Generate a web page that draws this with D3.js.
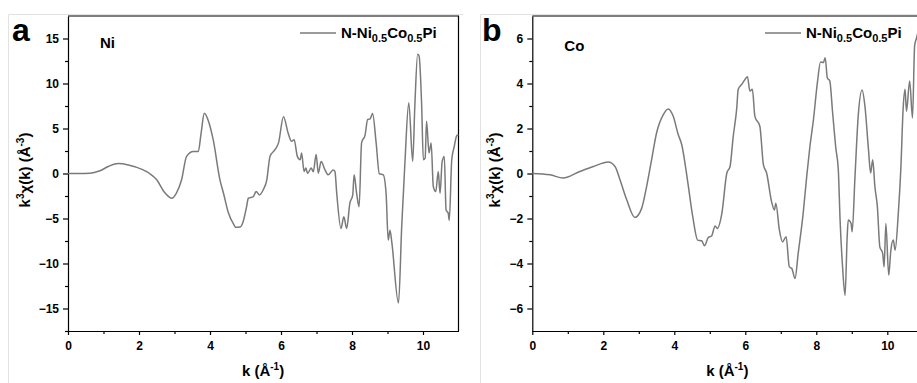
<!DOCTYPE html>
<html>
<head>
<meta charset="utf-8">
<script src="https://cdn.jsdelivr.net/npm/d3@7"></script>
<style>
  html, body { margin: 0; padding: 0; background: #fff; overflow: hidden; }
  svg { display: block; font-family: Arial, 'Liberation Sans', sans-serif; }
  .axis text { font-size: 12px; font-weight: bold; fill: #000; }
  .axis path, .axis line { stroke: #000; stroke-width: 1.2; }
</style>
</head>
<body>
<svg width="917" height="383"></svg>
<script>
// Ni K-edge k3-weighted EXAFS
const kNi = [0, 0.3, 0.62, 0.9, 1.15, 1.42, 1.7, 2.12, 2.3, 2.5, 2.7, 2.92, 3.05, 3.2, 3.34, 3.53, 3.67, 3.75, 3.84, 3.95,
  4.09, 4.28, 4.38, 4.52, 4.66, 4.73, 4.85, 4.93, 5.03, 5.08, 5.22, 5.3, 5.39, 5.5, 5.6, 5.69, 5.83, 5.93, 6.07, 6.2,
  6.3, 6.37, 6.46, 6.54, 6.58, 6.65, 6.7, 6.75, 6.85, 6.91, 6.99, 7.05, 7.13, 7.24, 7.33, 7.47, 7.52, 7.57, 7.69, 7.77,
  7.85, 7.94, 8.02, 8.06, 8.13, 8.2, 8.27, 8.37, 8.44, 8.51, 8.58, 8.68, 8.77, 8.88, 8.96, 9.02, 9.07, 9.12, 9.31, 9.4,
  9.49, 9.6, 9.71, 9.77, 9.85, 9.89, 9.96, 10.01, 10.06, 10.1, 10.17, 10.23, 10.29, 10.36, 10.43, 10.48, 10.54, 10.6, 10.65, 10.71,
  10.74, 10.81, 10.88, 10.95, 11.0];
const chiNi = [0, 0, 0.02, 0.3, 0.8, 1.1, 0.95, 0.4, 0.0, -0.7, -2.0, -2.75, -2.2, -0.7, 1.9, 2.45, 2.45, 4.5, 6.7, 5.9,
  3.76, -0.7, -2.2, -4.4, -5.6, -5.98, -5.95, -5.4, -3.7, -2.75, -2.57, -2.0, -2.38, -1.8, -0.7, 1.9, 2.64, 3.4, 6.3, 4.5,
  3.57, 3.76, 1.9, 1.53, 2.28, 0.22, 0.6, 0.0, 0.6, 0.2, 2.1, 0.04, 1.34, 0.4, -0.15, 0.4, 0.2, -2.2, -6.1, -4.8,
  -6.1, -3.3, -2.4, -0.15, -2.2, -3.7, 3.4, 4.3, 6.0, 6.07, 6.66, 3.4, -0.03, -0.15, -2.2, -7.4, -6.3, -7.6, -14.4, -5.9,
  1.16, 7.86, 1.34, 7.5, 13.25, 13.06, 7.86, 1.53, 1.7, 5.8, 2.28, 3.4, -1.45, -2.0, 0.22, -2.2, 1.34, 1.9, -4.05, -4.4,
  -5.2, 1.53, 3.0, 4.2, 4.3];

// Co K-edge k3-weighted EXAFS
const kCo = [0, 0.5, 0.87, 1.34, 1.72, 2.14, 2.33, 2.47, 2.66, 2.89, 3.08, 3.22, 3.36, 3.5, 3.69, 3.83, 3.97, 4.11, 4.21, 4.37,
  4.52, 4.66, 4.77, 4.85, 4.96, 5.05, 5.15, 5.21, 5.34, 5.48, 5.57, 5.66, 5.76, 5.8, 5.9, 5.99, 6.06, 6.13, 6.2, 6.27,
  6.41, 6.51, 6.6, 6.74, 6.82, 6.86, 6.96, 7.05, 7.15, 7.24, 7.31, 7.4, 7.49, 7.63, 7.73, 7.82, 7.92, 8.03, 8.12, 8.2,
  8.25, 8.31, 8.38, 8.46, 8.55, 8.62, 8.67, 8.74, 8.81, 8.87, 8.9, 8.98, 9.01, 9.09, 9.18, 9.29, 9.37, 9.47, 9.53, 9.59,
  9.65, 9.72, 9.79, 9.87, 9.91, 9.96, 10.04, 10.1, 10.17, 10.22, 10.31, 10.38, 10.45, 10.5, 10.54, 10.63, 10.71, 10.77, 10.82, 10.9];
const chiCo = [0, -0.06, -0.2, 0.09, 0.31, 0.51, 0.31, -0.28, -1.17, -1.95, -1.55, -0.58, 0.61, 1.8, 2.62, 2.87, 2.54, 1.73, 1.28, -0.28,
  -1.92, -2.96, -2.99, -3.21, -2.84, -2.78, -2.33, -2.44, -1.77, 0.02, 0.31, 1.65, 2.92, 3.74, 3.96, 4.18, 4.3, 3.66, 3.74, 2.54,
  2.1, 0.39, 0.02, -1.25, -1.62, -1.32, -2.51, -3.04, -2.81, -4.15, -4.22, -4.67, -3.55, -1.77, -0.13, 1.2, 2.4, 4.03, 4.96, 4.93,
  5.15, 4.26, 4.11, 2.7, 1.13, 0.17, -2.07, -4.15, -5.42, -2.81, -2.07, -2.22, -2.59, -0.13, 2.54, 3.71, 2.99, 1.06, 0.02, 0.61,
  -0.58, -1.47, -3.26, -3.55, -4.15, -2.22, -4.52, -3.41, -2.96, -3.41, -1.77, 0.17, 2.99, 3.74, 2.77, 4.11, 2.47, 5.67, 6.0, 6.5];

const xTicks = [0, 2, 4, 6, 8, 10];
const xMinor = [1, 3, 5, 7, 9];
const yTicksNi = [-15, -10, -5, 0, 5, 10, 15];
const yMinorNi = [-17.5, -12.5, -7.5, -2.5, 2.5, 7.5, 12.5];
const yTicksCo = [-6, -4, -2, 0, 2, 4, 6];
const yMinorCo = [-5, -3, -1, 1, 3, 5];

const width = 917;
const height = 383;
const svg = d3.select('svg');
const lineColor = '#7a7a7a';

const panels = [
  { letter: 'a', element: 'Ni', k: kNi, chi: chiNi, yDomain: [-17.5, 17.5], yTicks: yTicksNi, yMinor: yMinorNi,
    left: 68, frameX: 8.5, letterX: 12, legendX: 300, ylabelX: 30, elemY: 32 },
  { letter: 'b', element: 'Co', k: kCo, chi: chiCo, yDomain: [-7, 7], yTicks: yTicksCo, yMinor: yMinorCo,
    left: 532.3, frameX: 480.5, letterX: 482, legendX: 765, ylabelX: 500, elemY: 35 }
];

const marginTop = 16;
const innerHeight = 315;
const innerWidth = 390.5;

// the right panel is cut by the page edge, as in the source figure
svg.append('clipPath').attr('id', 'page')
  .append('rect').attr('width', width).attr('height', height);
const root = svg.append('g').attr('clip-path', 'url(#page)');

panels.forEach(p => {
  // faint border of the original figure tile
  root.append('path')
    .attr('d', `M${p.frameX},${height} V14.5 H${Math.min(p.frameX + 455, width)}`)
    .attr('fill', 'none')
    .attr('stroke', '#e2e2e2')
    .attr('stroke-width', 1);

  const xScale = d3.scaleLinear().domain([0, 11]).range([0, innerWidth]);
  const yScale = d3.scaleLinear().domain(p.yDomain).range([innerHeight, 0]);

  const g = root.append('g')
    .attr('transform', `translate(${p.left}, ${marginTop})`);

  // minor ticks (no labels)
  const xMinorG = g.append('g').attr('class', 'axis')
    .attr('transform', `translate(0, ${innerHeight})`)
    .call(d3.axisBottom(xScale).tickValues(xMinor).tickSize(3));
  xMinorG.selectAll('.domain, text').remove();
  const yMinorG = g.append('g').attr('class', 'axis')
    .call(d3.axisLeft(yScale).tickValues(p.yMinor).tickSize(3));
  yMinorG.selectAll('.domain, text').remove();

  g.append('g').attr('class', 'axis')
    .attr('transform', `translate(0, ${innerHeight})`)
    .call(d3.axisBottom(xScale).tickValues(xTicks).tickSize(4).tickPadding(6).tickSizeOuter(0));
  g.append('g').attr('class', 'axis')
    .call(d3.axisLeft(yScale).tickValues(p.yTicks).tickSize(5).tickPadding(4).tickSizeOuter(0));

  // top and right frame
  g.append('path')
    .attr('d', `M0,0 H${innerWidth} V${innerHeight}`)
    .attr('fill', 'none')
    .attr('stroke', '#000')
    .attr('stroke-width', 1.2);

  const line = d3.line()
    .x((d, i) => xScale(p.k[i]))
    .y(d => yScale(d))
    .curve(d3.curveMonotoneX);

  g.append('path')
    .datum(p.chi)
    .attr('fill', 'none')
    .attr('stroke', lineColor)
    .attr('stroke-width', 1.5)
    .attr('stroke-linejoin', 'round')
    .attr('d', line);

  // element label
  g.append('text')
    .attr('x', 32)
    .attr('y', p.elemY)
    .attr('font-size', 15)
    .attr('font-weight', 'bold')
    .text(p.element);

  // legend
  root.append('line')
    .attr('x1', p.legendX).attr('x2', p.legendX + 36)
    .attr('y1', 33).attr('y2', 33)
    .attr('stroke', lineColor)
    .attr('stroke-width', 1.5);
  const leg = root.append('text')
    .attr('x', p.legendX + 41)
    .attr('y', 38)
    .attr('font-size', 15)
    .attr('font-weight', 'bold');
  leg.append('tspan').text('N-Ni');
  leg.append('tspan').attr('font-size', 11).attr('dy', 4).text('0.5');
  leg.append('tspan').attr('dy', -4).text('Co');
  leg.append('tspan').attr('font-size', 11).attr('dy', 4).text('0.5');
  leg.append('tspan').attr('dy', -4).text('Pi');

  // panel letter
  root.append('text')
    .attr('x', p.letterX)
    .attr('y', 41)
    .attr('font-size', 32)
    .attr('font-weight', 'bold')
    .text(p.letter);

  // x axis title
  const xt = root.append('text')
    .attr('x', p.left + 195)
    .attr('y', 376)
    .attr('text-anchor', 'middle')
    .attr('font-size', 15)
    .attr('font-weight', 'bold');
  xt.append('tspan').text('k (Å');
  xt.append('tspan').attr('font-size', 10).attr('dy', -6).text('-1');
  xt.append('tspan').attr('dy', 6).text(')');

  // y axis title
  const yt = root.append('text')
    .attr('transform', `translate(${p.ylabelX}, 170) rotate(-90)`)
    .attr('text-anchor', 'middle')
    .attr('font-size', 15)
    .attr('font-weight', 'bold');
  yt.append('tspan').text('k');
  yt.append('tspan').attr('font-size', 10).attr('dy', -6).text('3');
  yt.append('tspan').attr('dy', 6).text('χ(k) (Å');
  yt.append('tspan').attr('font-size', 10).attr('dy', -6).text('-3');
  yt.append('tspan').attr('dy', 6).text(')');
});
</script>
</body>
</html>
